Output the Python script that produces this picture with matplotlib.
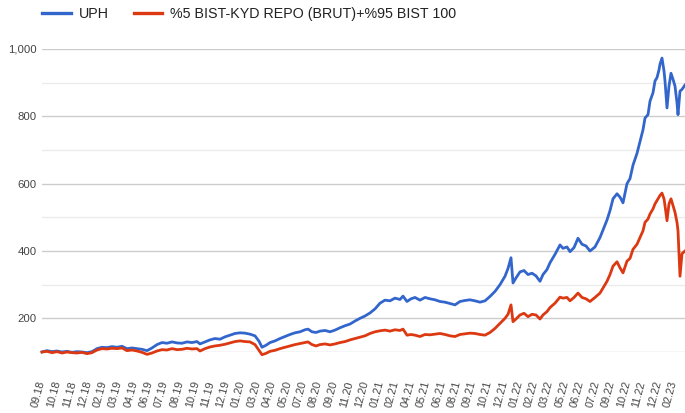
import matplotlib
matplotlib.use("Agg")
import matplotlib.pyplot as plt
from matplotlib.ticker import FixedLocator, FuncFormatter

# observation index (time axis, arbitrary session units) and values
t = [0, 5, 10, 15, 20, 25, 30, 35, 40, 45, 50, 55, 60, 65, 70, 75, 80, 85, 90, 95,
     100, 105, 110, 115, 120, 125, 130, 135, 140, 145, 150, 155, 158, 163, 168, 173,
     178, 183, 188, 193, 198, 203, 208, 213, 217, 220, 224, 228, 233, 238, 243, 248,
     253, 258, 263, 266, 270, 274, 278, 283, 288, 293, 298, 303, 308, 313, 318, 323,
     328, 333, 338, 343, 348, 353, 358, 361, 365, 369, 373, 378, 383, 388, 393, 398,
     403, 408, 413, 418, 423, 428, 433, 438, 443, 448, 453, 458, 463, 466, 469, 471,
     474, 478, 482, 486, 490, 494, 498, 501, 505, 508, 513, 518, 521, 525, 528, 532,
     536, 540, 544, 548, 553, 558, 562, 565, 568, 571, 575, 578, 581, 585, 588, 591,
     595, 598, 601, 603, 606, 608, 611, 613, 615, 617, 618, 620, 622, 623, 625, 627,
     629, 631, 633, 635, 636, 638, 640, 643]

uph = [100, 104, 101, 103, 100, 102, 99, 101, 100, 98, 101, 110, 114, 113, 116, 114,
       117, 110, 112, 110, 108, 104, 112, 122, 128, 126, 130, 127, 126, 130, 128, 131,
       124, 130, 136, 140, 138, 145, 150, 155, 157, 156, 153, 148, 132, 114, 120, 128,
       133, 140, 146, 152, 157, 160, 166, 168, 160, 158, 162, 164, 160, 165, 172, 178,
       183, 192, 200, 207, 216, 228, 245, 254, 252, 260, 256, 266, 250, 258, 262, 254,
       262, 258, 255, 250, 248, 244, 240, 250, 253, 255, 252, 248, 252, 265, 280, 300,
       325, 348, 380, 305, 320, 338, 342, 330, 334, 326, 310, 330, 345, 365, 390, 418,
       408, 412, 398, 410, 438, 420, 415, 400, 412, 440, 470, 492, 520, 555, 570, 560,
       543, 600, 615, 655, 690, 725, 760, 795, 805, 845, 870, 905, 915, 938, 955, 973,
       935, 905, 825, 890, 928, 910, 890, 840, 805, 875, 880, 893]

benchmark = [100, 102, 98, 101, 97, 100, 98, 97, 99, 95, 98, 106, 110, 109, 111, 110,
             112, 104, 106, 103, 99, 93, 97, 103, 107, 106, 110, 107, 108, 111, 109, 110,
             103, 110, 115, 118, 120, 123, 127, 131, 133, 131, 130, 122, 105, 92, 96, 102,
             105, 110, 114, 118, 122, 125, 128, 130, 122, 118, 122, 124, 121, 124, 128, 131,
             136, 140, 144, 148, 155, 160, 163, 165, 162, 166, 164, 168, 150, 152, 150, 146,
             152, 151, 153, 155, 152, 148, 146, 152, 154, 156, 155, 152, 150, 158, 170, 185,
             200, 212, 240, 190, 198, 210, 215, 205, 212, 210, 198, 210, 220, 232, 245, 263,
             260, 262, 252, 262, 275, 262, 258, 250, 262, 275, 295, 310, 330, 355, 368, 350,
             335, 370, 378, 405, 420, 440, 460, 485, 495, 510, 525, 540, 550, 560, 565, 572,
             555, 535, 490, 540, 555, 535, 515, 485, 460, 325, 392, 400]

tick_labels = ["09.18", "10.18", "11.18", "12.18", "02.19", "03.19", "04.19", "06.19",
               "07.19", "08.19", "10.19", "11.19", "12.19", "01.20", "03.20", "04.20",
               "05.20", "07.20", "08.20", "09.20", "11.20", "12.20", "01.21", "02.21",
               "04.21", "05.21", "06.21", "08.21", "09.21", "10.21", "12.21", "01.22",
               "02.22", "03.22", "05.22", "06.22", "07.22", "09.22", "10.22", "11.22",
               "12.22", "02.23"]

series_names = ["UPH", "%5 BIST-KYD REPO (BRUT)+%95 BIST 100"]
colors = ["#3366cc", "#dc3912"]

plt.rcParams['font.family'] = ['Liberation Sans', 'DejaVu Sans']

W, H = 685, 413
fig = plt.figure(figsize=(W / 100, H / 100), dpi=100)
ax = fig.add_axes([42 / W, 1 - 352 / H, (685 - 42) / W, (352 - 49) / H])

ax.plot(t, uph, color=colors[0], lw=2.0, label=series_names[0],
        solid_joinstyle='round', clip_on=False, zorder=3)
ax.plot(t, benchmark, color=colors[1], lw=2.0, label=series_names[1],
        solid_joinstyle='round', clip_on=False, zorder=3)

ax.set_xlim(0, 643)
ax.set_ylim(100, 1000)

# y grid
ax.yaxis.set_major_locator(FixedLocator([200, 400, 600, 800, 1000]))
ax.yaxis.set_minor_locator(FixedLocator([300, 500, 700, 900]))
ax.yaxis.set_major_formatter(FuncFormatter(lambda v, p: f"{int(v):,}"))
ax.grid(axis='y', which='major', color='#cccccc', lw=1.0)
ax.grid(axis='y', which='minor', color='#ebebeb', lw=1.0)
ax.axhline(100, color='#cccccc', lw=1.0, zorder=1)
ax.set_axisbelow(True)
ax.tick_params(axis='y', which='both', length=0, pad=4, labelsize=8.2, labelcolor='#444444')

# x ticks (category style labels)
step = 15.4
ax.xaxis.set_major_locator(FixedLocator([i * step for i in range(len(tick_labels))]))
ax.set_xticklabels(tick_labels, rotation=75, ha='right', va='center',
                   rotation_mode='anchor', fontsize=7.8, color='#444444')
ax.tick_params(axis='x', length=0, pad=21)

for s in ax.spines.values():
    s.set_visible(False)

leg = ax.legend(loc='center left', bbox_to_anchor=(42 / W, 1 - 14 / H),
                bbox_transform=fig.transFigure, ncol=2, frameon=False,
                fontsize=10.3, handlelength=2.0, handletextpad=0.55,
                columnspacing=1.75, borderpad=0, borderaxespad=0)
for txt in leg.get_texts():
    txt.set_color('#222222')
for line in leg.get_lines():
    line.set_linewidth(2.4)

fig.savefig("out.png", dpi=100)
